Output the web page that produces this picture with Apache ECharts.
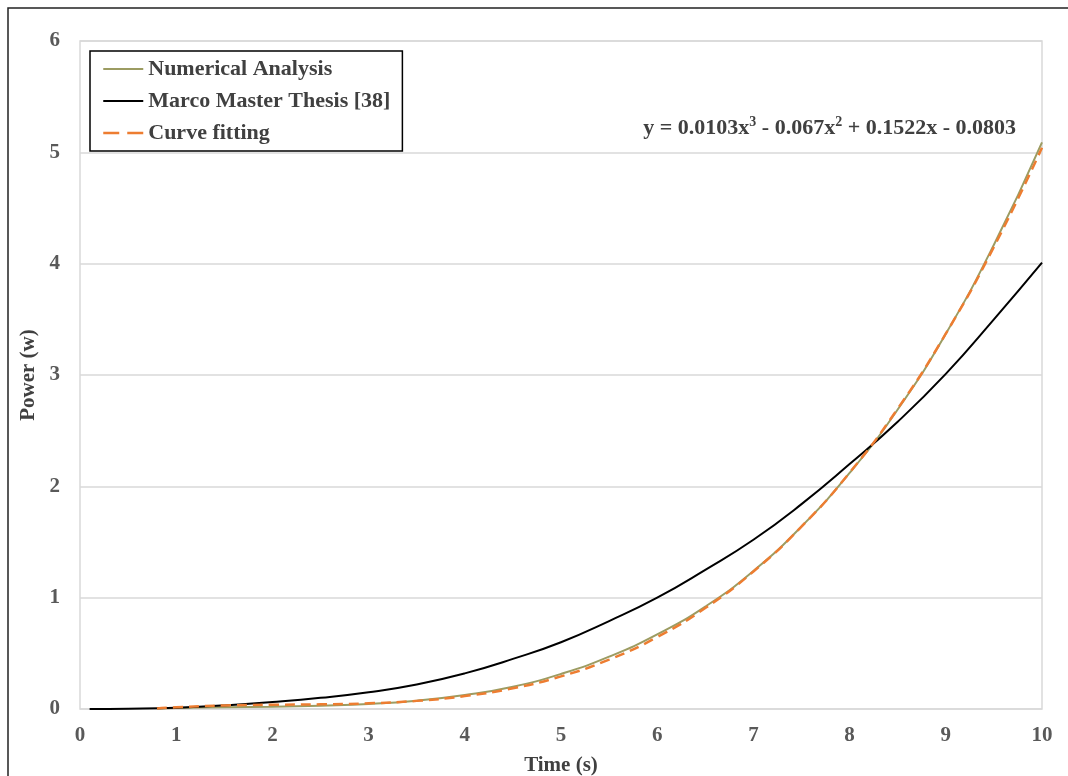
<!DOCTYPE html>
<html>
<head>
<meta charset="utf-8">
<script src="https://cdn.jsdelivr.net/npm/echarts@6/dist/echarts.min.js"></script>
<style>
html, body { margin: 0; padding: 0; background: #fff; }
#chart { width: 1068px; height: 776px; }
</style>
</head>
<body>
<div id="chart"></div>
<script>
// values
const timeBlack = [0.1, 0.5, 1, 1.5, 2, 2.5, 3, 3.5, 4, 4.5, 5, 5.5, 6, 6.5, 7, 7.5, 8, 8.5, 9, 9.5, 10]
const marcoThesis = [0, 0.003, 0.012, 0.032, 0.062, 0.1, 0.15, 0.22, 0.32, 0.45, 0.6, 0.79, 1.0, 1.25, 1.52, 1.84, 2.2, 2.58, 3.01, 3.5, 4.01]

const timeFit = [0.8, 1, 1.5, 2, 2.5, 3, 3.5, 4, 4.5, 5, 5.5, 6, 6.5, 7, 7.5, 8, 8.5, 9, 9.5, 10]
const numerical = [0.005, 0.01, 0.015, 0.02, 0.03, 0.045, 0.075, 0.125, 0.2, 0.315, 0.47, 0.67, 0.92, 1.24, 1.64, 2.12, 2.69, 3.37, 4.17, 5.09]
const curveFit = [0.004, 0.015, 0.032, 0.038, 0.042, 0.051, 0.073, 0.116, 0.186, 0.293, 0.444, 0.646, 0.907, 1.235, 1.638, 2.123, 2.698, 3.371, 4.15, 5.042]

const legendNames = ['Numerical Analysis', 'Marco Master Thesis [38]', 'Curve fitting']

const pairs = (xs, ys) => xs.map((x, i) => [x, ys[i]])

const font = 'Liberation Serif, Times New Roman, serif'
const myChart = echarts.init(document.getElementById('chart'))
myChart.setOption({
  animation: false,
  grid: {
    left: 80,
    top: 41,
    width: 962,
    height: 668,
    outerBoundsMode: 'none',
    show: true,
    borderColor: '#d9d9d9',
    borderWidth: 1.5
  },
  graphic: [
    {
      type: 'rect',
      shape: { x: 8, y: 8, width: 1100, height: 800 },
      style: { fill: 'none', stroke: '#222', lineWidth: 1.5 },
      silent: true
    },
    {
      type: 'text',
      right: 52,
      top: 115,
      style: {
        // equation of the fitted curve
        text: '{b|y = 0.0103x}{s|3}{b| - 0.067x}{s|2}{b| + 0.1522x - 0.0803}',
        rich: {
          b: { font: 'bold 22px ' + font, fill: '#404040', verticalAlign: 'bottom' },
          s: { font: 'bold 14px ' + font, fill: '#404040', verticalAlign: 'top', padding: [0, 0, 10, 0] }
        }
      }
    }
  ],
  legend: {
    left: 90,
    top: 51,
    orient: 'vertical',
    itemWidth: 40,
    itemHeight: 14,
    itemGap: 10,
    padding: [7, 12, 7, 12],
    borderColor: '#000',
    borderWidth: 1.5,
    backgroundColor: '#fff',
    itemStyle: { opacity: 0 },
    lineStyle: { width: 2 },
    textStyle: {
      fontFamily: font,
      fontWeight: 'bold',
      fontSize: 22,
      color: '#404040',
      padding: [0, 0, 0, 0]
    },
    data: [
      legendNames[0],
      legendNames[1],
      { name: legendNames[2], lineStyle: { width: 2.5, type: [16, 8] } }
    ]
  },
  xAxis: {
    type: 'value',
    min: 0,
    max: 10,
    interval: 1,
    name: 'Time (s)',
    nameLocation: 'middle',
    nameGap: 46,
    nameTextStyle: { fontFamily: font, fontWeight: 'bold', fontSize: 21, color: '#404040' },
    axisLine: { show: false },
    axisTick: { show: false },
    splitLine: { show: false },
    axisLabel: { margin: 16, fontFamily: font, fontWeight: 'bold', fontSize: 21, color: '#595959' }
  },
  yAxis: {
    type: 'value',
    min: 0,
    max: 6,
    interval: 1,
    name: 'Power (w)',
    nameLocation: 'middle',
    nameGap: 31,
    nameRotate: 90,
    nameTextStyle: { fontFamily: font, fontWeight: 'bold', fontSize: 21, color: '#404040' },
    axisLine: { show: false },
    axisTick: { show: false },
    splitLine: { show: true, lineStyle: { color: '#d9d9d9', width: 1.5 } },
    axisLabel: { margin: 20, fontFamily: font, fontWeight: 'bold', fontSize: 21, color: '#595959' }
  },
  series: [
    {
      name: legendNames[0],
      type: 'line',
      smooth: true,
      symbol: 'none',
      data: pairs(timeFit, numerical),
      lineStyle: { color: '#9c9c62', width: 2 },
      itemStyle: { color: '#9c9c62' }
    },
    {
      name: legendNames[1],
      type: 'line',
      smooth: true,
      symbol: 'none',
      data: pairs(timeBlack, marcoThesis),
      lineStyle: { color: '#000', width: 2 },
      itemStyle: { color: '#000' }
    },
    {
      name: legendNames[2],
      type: 'line',
      smooth: true,
      symbol: 'none',
      data: pairs(timeFit, curveFit),
      lineStyle: { color: '#ed7d31', width: 2.5, type: [10, 6] },
      itemStyle: { color: '#ed7d31' }
    }
  ]
})
window.addEventListener('resize', () => {
  myChart.resize()
})
</script>
</body>
</html>
